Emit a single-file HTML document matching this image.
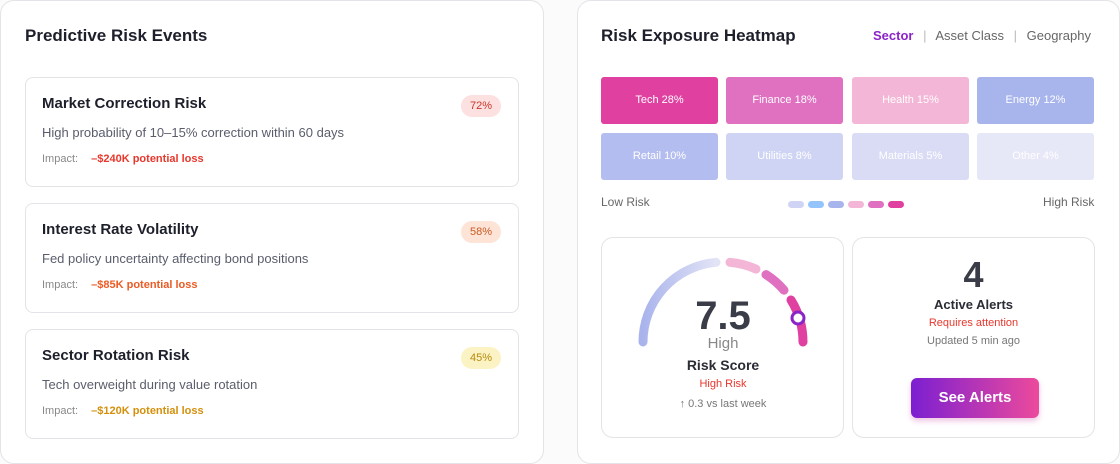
<!DOCTYPE html><html><head><style>
body{margin:0;width:1120px;height:464px;background:#fbfbfc;font-family:"Liberation Sans",sans-serif;position:relative;overflow:hidden}
.p{position:absolute;background:#fff;border:1px solid #e3e4e8;border-radius:14px;box-sizing:border-box}
.t{position:absolute;font-size:17px;font-weight:bold;color:#1d1f2b}
.c{position:absolute;left:25px;width:494px;height:110px;border:1px solid #e3e4e8;border-radius:8px;box-sizing:border-box;background:#fff}
.c h3{position:absolute;left:16px;top:17px;margin:0;font-size:15px;color:#1d1f2b}
.c .d{position:absolute;left:16px;top:47px;font-size:13px;color:#5a5d6b}
.c .i{position:absolute;left:16px;top:75px;font-size:11px;color:#888}
.c .i b{margin-left:10px}
.c .b{position:absolute;right:17px;top:17px;width:40px;height:22px;border-radius:11px;font-size:11px;text-align:center;line-height:22px}
.h{position:absolute;width:117px;height:47px;border-radius:3px;color:#fff;font-size:11px;text-align:center;line-height:47px}
.dot{position:absolute;top:201px;width:16px;height:7px;border-radius:4px}
</style></head><body>
<div class="p" style="left:0;top:0;width:544px;height:464px"></div>
<div class="t" style="left:25px;top:26px">Predictive Risk Events</div>
<div class="c" style="top:77px"><h3>Market Correction Risk</h3><div class="d">High probability of 10–15% correction within 60 days</div><div class="i">Impact: <b style="color:#e8372c">–$240K potential loss</b></div><div class="b" style="background:#fde0e0;color:#c8372c">72%</div></div>
<div class="c" style="top:203px"><h3>Interest Rate Volatility</h3><div class="d">Fed policy uncertainty affecting bond positions</div><div class="i">Impact: <b style="color:#ec5a24">–$85K potential loss</b></div><div class="b" style="background:#fde4d6;color:#c85a24">58%</div></div>
<div class="c" style="top:329px"><h3>Sector Rotation Risk</h3><div class="d">Tech overweight during value rotation</div><div class="i">Impact: <b style="color:#d4900c">–$120K potential loss</b></div><div class="b" style="background:#fcf3c4;color:#b48a0c">45%</div></div>

<div class="p" style="left:577px;top:0;width:543px;height:464px"></div>
<div class="t" style="left:601px;top:26px">Risk Exposure Heatmap</div>
<div style="position:absolute;left:873px;top:28px;font-size:13px;color:#666"><b style="color:#8b24c8">Sector</b> <span style="color:#bbb;margin:0 6px">|</span> Asset Class <span style="color:#bbb;margin:0 6px">|</span> Geography</div>
<div class="h" style="left:601px;top:77px;background:#e040a0">Tech 28%</div>
<div class="h" style="left:726px;top:77px;background:#e070c0">Finance 18%</div>
<div class="h" style="left:852px;top:77px;background:#f4b6d6">Health 15%</div>
<div class="h" style="left:977px;top:77px;background:#a8b4ec">Energy 12%</div>
<div class="h" style="left:601px;top:133px;background:#b4bdef">Retail 10%</div>
<div class="h" style="left:726px;top:133px;background:#cfd4f4">Utilities 8%</div>
<div class="h" style="left:852px;top:133px;background:#dadcf5">Materials 5%</div>
<div class="h" style="left:977px;top:133px;background:#e6e7f7">Other 4%</div>
<div style="position:absolute;left:601px;top:195px;font-size:12px;color:#666">Low Risk</div>
<div style="position:absolute;left:1043px;top:195px;font-size:12px;color:#666">High Risk</div>
<div class="dot" style="left:788px;background:#cfd4f4"></div><div class="dot" style="left:808px;background:#93c4fb"></div><div class="dot" style="left:828px;background:#a8b4ec"></div><div class="dot" style="left:848px;background:#f4b6d6"></div><div class="dot" style="left:868px;background:#e070c0"></div><div class="dot" style="left:888px;background:#e040a0"></div>

<div class="p" style="left:601px;top:237px;width:243px;height:201px;border-radius:12px"></div>
<svg style="position:absolute;left:601px;top:237px" width="243" height="201">
<defs><linearGradient id="g1" x1="0" x2="1"><stop offset="0" stop-color="#aab4ec"/><stop offset="1" stop-color="#e2e4f6"/></linearGradient></defs>
<g transform="translate(122,105)" fill="none" stroke-width="9" stroke-linecap="round">
<path d="M-80 0 A80 80 0 0 1 -7 -79.7" stroke="url(#g1)"/>
<path d="M7 -79.7 A80 80 0 0 1 33 -72.9" stroke="#f4b6d6"/>
<path d="M43 -67.4 A80 80 0 0 1 61 -51.8" stroke="#e070c0"/>
<path d="M68 -42 A80 80 0 0 1 80 0" stroke="#e040a0"/>
<circle cx="75" cy="-24" r="6" fill="#fff" stroke="#8b24c8" stroke-width="3"/>
</g>
<text x="122" y="92" text-anchor="middle" font-size="40" font-weight="bold" fill="#3a3d48" font-family="Liberation Sans">7.5</text>
<text x="122" y="111" text-anchor="middle" font-size="15" fill="#888" font-family="Liberation Sans">High</text>
<text x="122" y="133" text-anchor="middle" font-size="14" font-weight="bold" fill="#2a2c36" font-family="Liberation Sans">Risk Score</text>
<text x="122" y="150" text-anchor="middle" font-size="11" fill="#e8372c" font-family="Liberation Sans">High Risk</text>
<text x="122" y="170" text-anchor="middle" font-size="11" fill="#777" font-family="Liberation Sans">↑ 0.3 vs last week</text>
</svg>
<div class="p" style="left:852px;top:237px;width:243px;height:201px;border-radius:12px;text-align:center">
<div style="margin-top:17px;font-size:36px;font-weight:bold;color:#3a3d48;line-height:40px">4</div>
<div style="font-size:13px;font-weight:bold;color:#2a2c36;margin-top:2px">Active Alerts</div>
<div style="font-size:11px;color:#e8372c;margin-top:5px">Requires attention</div>
<div style="font-size:11px;color:#777;margin-top:6px">Updated 5 min ago</div>
<div style="position:absolute;left:58px;top:140px;width:128px;height:40px;border-radius:6px;background:linear-gradient(90deg,#7c1fd1,#ec4a9c);color:#fff;font-size:15px;font-weight:bold;line-height:40px;box-shadow:0 3px 6px rgba(200,60,160,.3)">See Alerts</div>
</div>
</body></html>
